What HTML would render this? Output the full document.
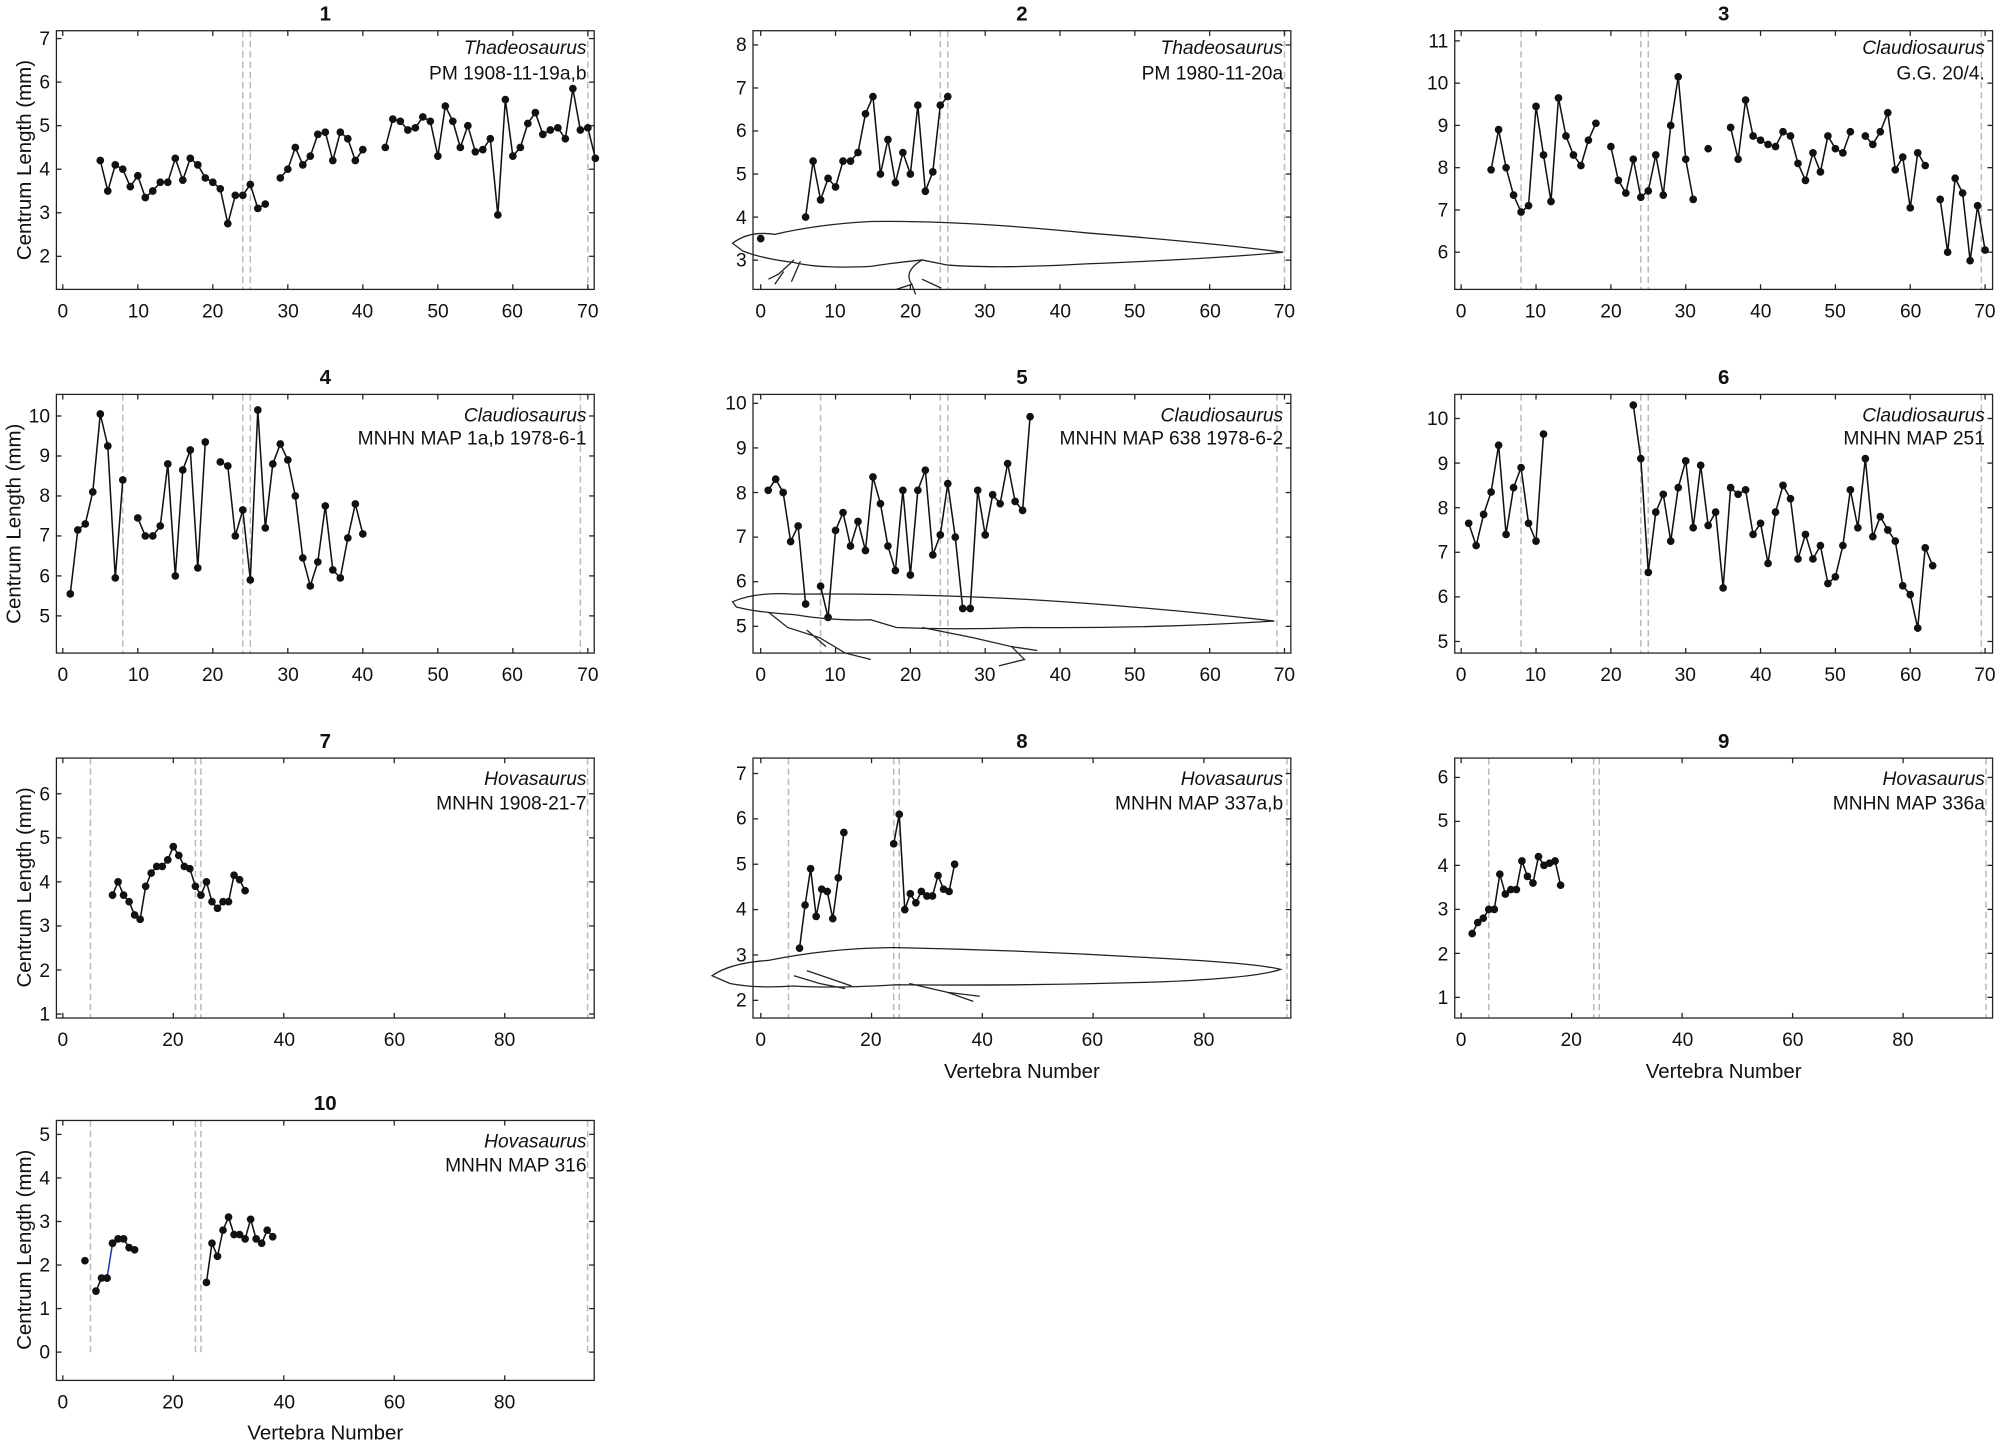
<!DOCTYPE html>
<html><head><meta charset="utf-8">
<style>
html,body{margin:0;padding:0;background:#fff;}
svg{display:block;}
text{font-family:"Liberation Sans",Arial,sans-serif;font-size:15px;fill:#111;}
.t{font-weight:bold;font-size:16px;text-anchor:middle;}
.sp{font-style:italic;text-anchor:end;}
.sn{text-anchor:end;}
.xl{text-anchor:middle;}
.yl{text-anchor:end;dominant-baseline:middle;}
.al{text-anchor:middle;font-size:16px;}
</style></head>
<body>
<svg id="s" width="2008" height="1447" viewBox="0 0 1568 1130" xmlns="http://www.w3.org/2000/svg">
<g id="plots"></g>
<g id="labels">
<text class="t" x="254" y="16">1</text>
<text class="t" x="798" y="16">2</text>
<text class="t" x="1346" y="16">3</text>
<text class="t" x="254" y="300">4</text>
<text class="t" x="798" y="300">5</text>
<text class="t" x="1346" y="300">6</text>
<text class="t" x="254" y="584">7</text>
<text class="t" x="798" y="584">8</text>
<text class="t" x="1346" y="584">9</text>
<text class="t" x="254" y="867">10</text>
<text class="sp" x="458" y="42">Thadeosaurus</text><text class="sn" x="458" y="62">PM 1908-11-19a,b</text>
<text class="sp" x="1002" y="42">Thadeosaurus</text><text class="sn" x="1002" y="62">PM 1980-11-20a</text>
<text class="sp" x="1550" y="42">Claudiosaurus</text><text class="sn" x="1550" y="62">G.G. 20/4.</text>
<text class="sp" x="458" y="329">Claudiosaurus</text><text class="sn" x="458" y="347">MNHN MAP 1a,b 1978-6-1</text>
<text class="sp" x="1002" y="329">Claudiosaurus</text><text class="sn" x="1002" y="347">MNHN MAP 638 1978-6-2</text>
<text class="sp" x="1550" y="329">Claudiosaurus</text><text class="sn" x="1550" y="347">MNHN MAP 251</text>
<text class="sp" x="458" y="613">Hovasaurus</text><text class="sn" x="458" y="632">MNHN 1908-21-7</text>
<text class="sp" x="1002" y="613">Hovasaurus</text><text class="sn" x="1002" y="632">MNHN MAP 337a,b</text>
<text class="sp" x="1550" y="613">Hovasaurus</text><text class="sn" x="1550" y="632">MNHN MAP 336a</text>
<text class="sp" x="458" y="896">Hovasaurus</text><text class="sn" x="458" y="915">MNHN MAP 316</text>
<text class="al" transform="translate(24,125) rotate(-90)">Centrum Length (mm)</text>
<text class="al" transform="translate(16,409) rotate(-90)">Centrum Length (mm)</text>
<text class="al" transform="translate(24,693) rotate(-90)">Centrum Length (mm)</text>
<text class="al" transform="translate(24,976) rotate(-90)">Centrum Length (mm)</text>
<text class="al" x="798" y="842">Vertebra Number</text>
<text class="al" x="1346" y="842">Vertebra Number</text>
<text class="al" x="254" y="1124">Vertebra Number</text>
<text class="xl" x="49" y="248">0</text><text class="xl" x="108" y="248">10</text><text class="xl" x="166" y="248">20</text><text class="xl" x="225" y="248">30</text><text class="xl" x="283" y="248">40</text><text class="xl" x="342" y="248">50</text><text class="xl" x="400" y="248">60</text><text class="xl" x="459" y="248">70</text>
<text class="xl" x="594" y="248">0</text><text class="xl" x="652" y="248">10</text><text class="xl" x="711" y="248">20</text><text class="xl" x="769" y="248">30</text><text class="xl" x="828" y="248">40</text><text class="xl" x="886" y="248">50</text><text class="xl" x="945" y="248">60</text><text class="xl" x="1003" y="248">70</text>
<text class="xl" x="1141" y="248">0</text><text class="xl" x="1199" y="248">10</text><text class="xl" x="1258" y="248">20</text><text class="xl" x="1316" y="248">30</text><text class="xl" x="1375" y="248">40</text><text class="xl" x="1433" y="248">50</text><text class="xl" x="1492" y="248">60</text><text class="xl" x="1550" y="248">70</text>
<text class="xl" x="49" y="532">0</text><text class="xl" x="108" y="532">10</text><text class="xl" x="166" y="532">20</text><text class="xl" x="225" y="532">30</text><text class="xl" x="283" y="532">40</text><text class="xl" x="342" y="532">50</text><text class="xl" x="400" y="532">60</text><text class="xl" x="459" y="532">70</text>
<text class="xl" x="594" y="532">0</text><text class="xl" x="652" y="532">10</text><text class="xl" x="711" y="532">20</text><text class="xl" x="769" y="532">30</text><text class="xl" x="828" y="532">40</text><text class="xl" x="886" y="532">50</text><text class="xl" x="945" y="532">60</text><text class="xl" x="1003" y="532">70</text>
<text class="xl" x="1141" y="532">0</text><text class="xl" x="1199" y="532">10</text><text class="xl" x="1258" y="532">20</text><text class="xl" x="1316" y="532">30</text><text class="xl" x="1375" y="532">40</text><text class="xl" x="1433" y="532">50</text><text class="xl" x="1492" y="532">60</text><text class="xl" x="1550" y="532">70</text>
<text class="xl" x="49" y="817">0</text><text class="xl" x="135" y="817">20</text><text class="xl" x="222" y="817">40</text><text class="xl" x="308" y="817">60</text><text class="xl" x="394" y="817">80</text>
<text class="xl" x="594" y="817">0</text><text class="xl" x="680" y="817">20</text><text class="xl" x="767" y="817">40</text><text class="xl" x="853" y="817">60</text><text class="xl" x="940" y="817">80</text>
<text class="xl" x="1141" y="817">0</text><text class="xl" x="1227" y="817">20</text><text class="xl" x="1314" y="817">40</text><text class="xl" x="1400" y="817">60</text><text class="xl" x="1486" y="817">80</text>
<text class="xl" x="49" y="1100">0</text><text class="xl" x="135" y="1100">20</text><text class="xl" x="222" y="1100">40</text><text class="xl" x="308" y="1100">60</text><text class="xl" x="394" y="1100">80</text>
<text class="yl" x="39" y="31">7</text><text class="yl" x="39" y="65">6</text><text class="yl" x="39" y="99">5</text><text class="yl" x="39" y="133">4</text><text class="yl" x="39" y="167">3</text><text class="yl" x="39" y="201">2</text>
<text class="yl" x="583" y="36">8</text><text class="yl" x="583" y="70">7</text><text class="yl" x="583" y="103">6</text><text class="yl" x="583" y="137">5</text><text class="yl" x="583" y="171">4</text><text class="yl" x="583" y="204">3</text>
<text class="yl" x="1131" y="33">11</text><text class="yl" x="1131" y="66">10</text><text class="yl" x="1131" y="99">9</text><text class="yl" x="1131" y="132">8</text><text class="yl" x="1131" y="165">7</text><text class="yl" x="1131" y="198">6</text>
<text class="yl" x="39" y="326">10</text><text class="yl" x="39" y="357">9</text><text class="yl" x="39" y="388">8</text><text class="yl" x="39" y="419">7</text><text class="yl" x="39" y="451">6</text><text class="yl" x="39" y="482">5</text>
<text class="yl" x="583" y="316">10</text><text class="yl" x="583" y="351">9</text><text class="yl" x="583" y="386">8</text><text class="yl" x="583" y="420">7</text><text class="yl" x="583" y="455">6</text><text class="yl" x="583" y="490">5</text>
<text class="yl" x="1131" y="328">10</text><text class="yl" x="1131" y="363">9</text><text class="yl" x="1131" y="398">8</text><text class="yl" x="1131" y="432">7</text><text class="yl" x="1131" y="467">6</text><text class="yl" x="1131" y="502">5</text>
<text class="yl" x="39" y="621">6</text><text class="yl" x="39" y="655">5</text><text class="yl" x="39" y="690">4</text><text class="yl" x="39" y="724">3</text><text class="yl" x="39" y="759">2</text><text class="yl" x="39" y="793">1</text>
<text class="yl" x="583" y="605">7</text><text class="yl" x="583" y="640">6</text><text class="yl" x="583" y="676">5</text><text class="yl" x="583" y="711">4</text><text class="yl" x="583" y="747">3</text><text class="yl" x="583" y="782">2</text>
<text class="yl" x="1131" y="608">6</text><text class="yl" x="1131" y="642">5</text><text class="yl" x="1131" y="677">4</text><text class="yl" x="1131" y="711">3</text><text class="yl" x="1131" y="746">2</text><text class="yl" x="1131" y="780">1</text>
<text class="yl" x="39" y="887">5</text><text class="yl" x="39" y="921">4</text><text class="yl" x="39" y="955">3</text><text class="yl" x="39" y="989">2</text><text class="yl" x="39" y="1023">1</text><text class="yl" x="39" y="1057">0</text>
</g>
<g fill="none" stroke="#222" stroke-width="1">
<path d="M572,190 Q585,180 605,183 Q640,175 680,173 Q750,172 850,182 Q950,190 1002,197 Q950,202 850,206 Q780,210 740,207 L720,203 Q700,205 680,208 Q640,210 620,205 Q595,202 580,196 Z"/>
<path d="M620,203 L608,214 L600,218 M612,212 L605,222 M625,204 L618,220 M720,203 Q705,212 712,222 L700,226 M712,222 L715,230 M720,218 L735,225"/>
<path d="M572,470 Q590,462 620,464 Q700,463 800,468 Q900,474 995,485 Q900,491 800,490 Q750,492 700,490 L680,484 Q650,485 620,480 Q590,478 575,474 Z"/>
<path d="M600,478 L615,490 L640,498 L660,510 L680,515 M630,492 L645,505 M720,490 L760,498 L790,505 L800,515 L780,520 M790,505 L810,508"/>
<path d="M556,762 Q570,752 600,750 Q650,740 700,740 Q800,742 900,748 Q980,752 1000,757 Q980,764 900,767 Q800,770 700,769 Q650,772 620,770 Q590,772 570,768 Z"/>
<path d="M620,762 L640,768 L660,772 M710,768 L740,775 L765,778 M740,775 L760,782 M630,758 L665,770"/>
</g>
<script>
const P=[
 {L:44,R:464,T:24,B:226,x0:-0.85,x1:70.85,y0:1.24,y1:7.18,xt:[0,10,20,30,40,50,60,70],yt:[2,3,4,5,6,7],d:[24,25,70],
  s:[[[5,4.2],[6,3.5],[7,4.1],[8,4.0],[9,3.6],[10,3.85],[11,3.35],[12,3.5],[13,3.7],[14,3.7],[15,4.25],[16,3.75],[17,4.25],[18,4.1],[19,3.8],[20,3.7],[21,3.55],[22,2.75],[23,3.4],[24,3.4],[25,3.65],[26,3.1],[27,3.2]],
     [[29,3.8],[30,4.0],[31,4.5],[32,4.1],[33,4.3],[34,4.8],[35,4.85],[36,4.2],[37,4.85],[38,4.7],[39,4.2],[40,4.45]],
     [[43,4.5],[44,5.15],[45,5.1],[46,4.9],[47,4.95],[48,5.2],[49,5.1],[50,4.3],[51,5.45],[52,5.1],[53,4.5],[54,5.0],[55,4.4],[56,4.45],[57,4.7],[58,2.95],[59,5.6],[60,4.3],[61,4.5],[62,5.05],[63,5.3],[64,4.8],[65,4.9],[66,4.95],[67,4.7],[68,5.85],[69,4.9],[70,4.95],[71,4.25]]]},
 {L:588,R:1008,T:24,B:226,x0:-1.03,x1:70.85,y0:2.32,y1:8.33,xt:[0,10,20,30,40,50,60,70],yt:[3,4,5,6,7,8],d:[24,25,70],
  s:[[[0,3.5]],[[6,4.0],[7,5.3],[8,4.4],[9,4.9],[10,4.7],[11,5.3],[12,5.3],[13,5.5],[14,6.4],[15,6.8],[16,5.0],[17,5.8],[18,4.8],[19,5.5],[20,5.0],[21,6.6],[22,4.6],[23,5.05],[24,6.6],[25,6.8]]]},
 {L:1136,R:1556,T:24,B:226,x0:-0.86,x1:71.0,y0:5.12,y1:11.24,xt:[0,10,20,30,40,50,60,70],yt:[6,7,8,9,10,11],d:[8,24,25,69.5],
  s:[[[4,7.95],[5,8.9],[6,8.0],[7,7.35],[8,6.95],[9,7.1],[10,9.45],[11,8.3],[12,7.2],[13,9.65],[14,8.75],[15,8.3],[16,8.05],[17,8.65],[18,9.05]],
     [[20,8.5],[21,7.7],[22,7.4],[23,8.2],[24,7.3],[25,7.45],[26,8.3],[27,7.35],[28,9.0],[29,10.15],[30,8.2],[31,7.25]],[[33,8.45]],
     [[36,8.95],[37,8.2],[38,9.6],[39,8.75],[40,8.65],[41,8.55],[42,8.5],[43,8.85],[44,8.75],[45,8.1],[46,7.7],[47,8.35],[48,7.9],[49,8.75],[50,8.45],[51,8.35],[52,8.85]],
     [[54,8.75],[55,8.55],[56,8.85],[57,9.3],[58,7.95],[59,8.25],[60,7.05],[61,8.35],[62,8.05]],
     [[64,7.25],[65,6.0],[66,7.75],[67,7.4],[68,5.8],[69,7.1],[70,6.05]]]},
 {L:44,R:464,T:308,B:510,x0:-0.85,x1:70.85,y0:4.07,y1:10.54,xt:[0,10,20,30,40,50,60,70],yt:[5,6,7,8,9,10],d:[8,24,25,69],
  s:[[[1,5.55],[2,7.15],[3,7.3],[4,8.1],[5,10.05],[6,9.25],[7,5.95],[8,8.4]],
     [[10,7.45],[11,7.0],[12,7.0],[13,7.25],[14,8.8],[15,6.0],[16,8.65],[17,9.15],[18,6.2],[19,9.35]],
     [[21,8.85],[22,8.75],[23,7.0],[24,7.65],[25,5.9],[26,10.15],[27,7.2],[28,8.8],[29,9.3],[30,8.9],[31,8.0],[32,6.45],[33,5.75],[34,6.35],[35,7.75],[36,6.15],[37,5.95],[38,6.95],[39,7.8],[40,7.05]]]},
 {L:588,R:1008,T:308,B:510,x0:-1.03,x1:70.85,y0:4.40,y1:10.2,xt:[0,10,20,30,40,50,60,70],yt:[5,6,7,8,9,10],d:[8,24,25,69],
  s:[[[1,8.05],[2,8.3],[3,8.0],[4,6.9],[5,7.25],[6,5.5]],
     [[8,5.9],[9,5.2],[10,7.15],[11,7.55],[12,6.8],[13,7.35],[14,6.7],[15,8.35],[16,7.75],[17,6.8],[18,6.25],[19,8.05],[20,6.15],[21,8.05],[22,8.5],[23,6.6],[24,7.05],[25,8.2],[26,7.0],[27,5.4],[28,5.4],[29,8.05],[30,7.05],[31,7.95],[32,7.75],[33,8.65],[34,7.8],[35,7.6],[36,9.7]]]},
 {L:1136,R:1556,T:308,B:510,x0:-0.86,x1:71.0,y0:4.74,y1:10.54,xt:[0,10,20,30,40,50,60,70],yt:[5,6,7,8,9,10],d:[8,24,25,69.5],
  s:[[[1,7.65],[2,7.15],[3,7.85],[4,8.35],[5,9.4],[6,7.4],[7,8.45],[8,8.9],[9,7.65],[10,7.25],[11,9.65]],
     [[23,10.3],[24,9.1],[25,6.55],[26,7.9],[27,8.3],[28,7.25],[29,8.45],[30,9.05],[31,7.55],[32,8.95],[33,7.6],[34,7.9],[35,6.2],[36,8.45],[37,8.3],[38,8.4],[39,7.4],[40,7.65],[41,6.75],[42,7.9],[43,8.5],[44,8.2],[45,6.85],[46,7.4],[47,6.85],[48,7.15],[49,6.3],[50,6.45],[51,7.15],[52,8.4],[53,7.55],[54,9.1],[55,7.35],[56,7.8],[57,7.5],[58,7.25],[59,6.25],[60,6.05],[61,5.3],[62,7.1],[63,6.7]]]},
 {L:44,R:464,T:592,B:795,x0:-1.16,x1:96.2,y0:0.91,y1:6.81,xt:[0,20,40,60,80],yt:[1,2,3,4,5,6],d:[5,24,25,95],
  s:[[[9,3.7],[10,4.0],[11,3.7],[12,3.55],[13,3.25],[14,3.15],[15,3.9],[16,4.2],[17,4.35],[18,4.35],[19,4.5],[20,4.8],[21,4.6],[22,4.35],[23,4.3],[24,3.9],[25,3.7],[26,4.0],[27,3.55],[28,3.4],[29,3.55],[30,3.55],[31,4.15],[32,4.05],[33,3.8]]]},
 {L:588,R:1008,T:592,B:795,x0:-1.4,x1:95.7,y0:1.61,y1:7.34,xt:[0,20,40,60,80],yt:[2,3,4,5,6,7],d:[5,24,25,95],
  s:[[[7,3.15],[8,4.1],[9,4.9],[10,3.85],[11,4.45],[12,4.4],[13,3.8],[14,4.7],[15,5.7]],
     [[24,5.45],[25,6.1],[26,4.0],[27,4.35],[28,4.15],[29,4.4],[30,4.3],[31,4.3],[32,4.75],[33,4.45],[34,4.4],[35,5.0]]]},
 {L:1136,R:1556,T:592,B:795,x0:-1.16,x1:96.2,y0:0.53,y1:6.44,xt:[0,20,40,60,80],yt:[1,2,3,4,5,6],d:[5,24,25,95],
  s:[[[2,2.45],[3,2.7],[4,2.8],[5,3.0],[6,3.0],[7,3.8],[8,3.35],[9,3.45],[10,3.45],[11,4.1],[12,3.75],[13,3.6],[14,4.2],[15,4.0],[16,4.05],[17,4.1],[18,3.55]]]},
 {L:44,R:464,T:875,B:1078,x0:-1.16,x1:96.2,y0:-0.65,y1:5.32,xt:[0,20,40,60,80],yt:[0,1,2,3,4,5],d:[5,24,25,95],dy:0,
  s:[[[4,2.1]],[[6,1.4],[7,1.7],[8,1.7]],[[8,1.7],[9,2.5]],[[9,2.5],[10,2.6],[11,2.6],[12,2.4],[13,2.35]],
     [[26,1.6],[27,2.5],[28,2.2],[29,2.8],[30,3.1],[31,2.7],[32,2.7],[33,2.6],[34,3.05],[35,2.6],[36,2.5],[37,2.8],[38,2.65]]],blue:[2]}
];
const NS="http://www.w3.org/2000/svg",g=document.getElementById("plots");
function el(t,a){const e=document.createElementNS(NS,t);for(const k in a)e.setAttribute(k,a[k]);g.appendChild(e);return e;}
P.forEach(p=>{
 const X=v=>p.L+(v-p.x0)/(p.x1-p.x0)*(p.R-p.L), Y=v=>p.B-(v-p.y0)/(p.y1-p.y0)*(p.B-p.T);
 p.d.forEach(v=>el("line",{x1:X(v),x2:X(v),y1:p.T,y2:p.dy===0?Y(0):p.B,stroke:"#bbb","stroke-width":1.2,"stroke-dasharray":"5,3"}));
 p.xt.forEach(v=>{el("line",{x1:X(v),x2:X(v),y1:p.B,y2:p.B-4,stroke:"#222"});el("line",{x1:X(v),x2:X(v),y1:p.T,y2:p.T+4,stroke:"#222"});});
 p.yt.forEach(v=>{el("line",{x1:p.L,x2:p.L+4,y1:Y(v),y2:Y(v),stroke:"#222"});el("line",{x1:p.R,x2:p.R-4,y1:Y(v),y2:Y(v),stroke:"#222"});});
 el("rect",{x:p.L,y:p.T,width:p.R-p.L,height:p.B-p.T,fill:"none",stroke:"#222","stroke-width":1});
 p.s.forEach((s,i)=>{
  if(s.length>1)el("polyline",{points:s.map(q=>X(q[0])+","+Y(q[1])).join(" "),fill:"none",stroke:(p.blue&&p.blue.includes(i))?"#1f3f9f":"#111","stroke-width":1.2});
  s.forEach(q=>el("circle",{cx:X(q[0]),cy:Y(q[1]),r:3,fill:"#111"}));
 });
});
</script>
</svg>
</body></html>
